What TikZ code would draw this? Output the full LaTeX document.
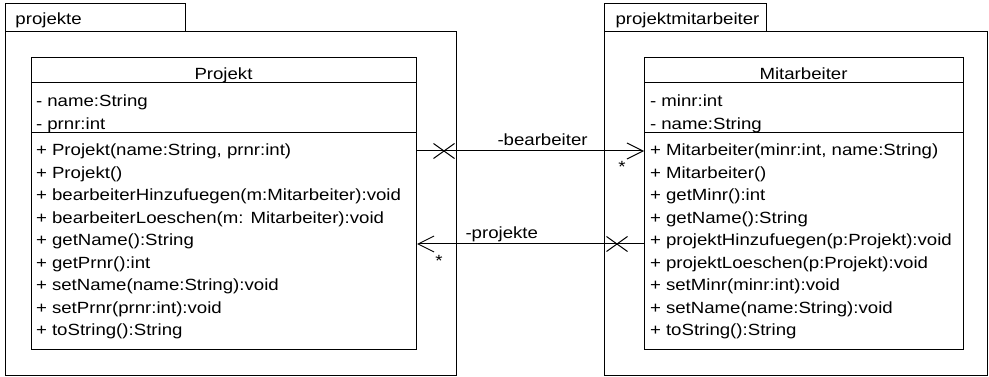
\documentclass[tikz,border=0pt]{standalone}
\usepackage{fontspec}
\setmainfont{Liberation Sans}[FakeStretch=1.15]
\usetikzlibrary{arrows.meta}
\begin{document}
\begin{tikzpicture}[x=1pt,y=-1pt,line width=1pt,
  txt/.style={inner sep=0pt,anchor=base west,font=\fontsize{16.2}{19}\selectfont},
  hdr/.style={inner sep=0pt,anchor=base,font=\fontsize{16.2}{19}\selectfont},
  box/.style={draw,inner sep=0pt,anchor=north west},
  open/.style={-{Straight Barb[length=16pt,width=16pt]}}]
\useasboundingbox (0,0) rectangle (989,377);
% packages
\node[box,minimum width=180pt,minimum height=28pt] (tabL) at (5,3) {};
\node[box,minimum width=451pt,minimum height=344pt] (pkgL) at (5,31) {};
\node[txt] (pkgLlbl) at (15,25) {projekte};
\node[box,minimum width=162pt,minimum height=28pt] (tabR) at (604,3) {};
\node[box,minimum width=383pt,minimum height=344pt] (pkgR) at (604,31) {};
\node[txt] (pkgRlbl) at (615,25) {projektmitarbeiter};
% classes
\node[box,minimum width=385pt,minimum height=292pt] (projekt) at (31,57) {};
\draw ([yshift=-26pt]projekt.north west) -- ([yshift=-26pt]projekt.north east);
\draw ([yshift=-76pt]projekt.north west) -- ([yshift=-76pt]projekt.north east);
\node[hdr] (projektname) at (223.5,80) {Projekt};
\node[txt] (pa1) at (35.5,107) {- name:String};
\node[txt] (pa2) at (35.5,129.5) {- prnr:int};
\foreach \t [count=\i] in {{+ Projekt(name:String, prnr:int)},{+ Projekt()},{+ bearbeiterHinzufuegen(m:Mitarbeiter):void},{+ bearbeiterLoeschen(m: Mitarbeiter):void},{+ getName():String},{+ getPrnr():int},{+ setName(name:String):void},{+ setPrnr(prnr:int):void},{+ toString():String}}
  \node[txt] (pm\i) at (35.5,{155.7+22.5*(\i-1)}) {\t};
\node[box,minimum width=319pt,minimum height=292pt] (mitarb) at (644,57) {};
\draw ([yshift=-26pt]mitarb.north west) -- ([yshift=-26pt]mitarb.north east);
\draw ([yshift=-76pt]mitarb.north west) -- ([yshift=-76pt]mitarb.north east);
\node[hdr] (mitarbname) at (803.5,80) {Mitarbeiter};
\node[txt] (ma1) at (649.5,107) {- minr:int};
\node[txt] (ma2) at (649.5,129.5) {- name:String};
\foreach \t [count=\i] in {{+ Mitarbeiter(minr:int, name:String)},{+ Mitarbeiter()},{+ getMinr():int},{+ getName():String},{+ projektHinzufuegen(p:Projekt):void},{+ projektLoeschen(p:Projekt):void},{+ setMinr(minr:int):void},{+ setName(name:String):void},{+ toString():String}}
  \node[txt] (mm\i) at (649.5,{155.7+22.5*(\i-1)}) {\t};
% associations
\path (projekt.north east) ++(0,94) coordinate (pb);
\path (projekt.north east) ++(0,187) coordinate (pp);
\path (mitarb.north west) ++(0,94) coordinate (mb);
\path (mitarb.north west) ++(0,187) coordinate (mp);
\draw[open] (pb) -- (mb);
\draw (pb) ++(16.5,-7.5) -- ++(21,15) (pb) ++(16.5,7.5) -- ++(21,-15);
\node[txt] (lblb) at (497,146) {-bearbeiter};
\node[hdr] (starb) at (622,173) {*};
\draw[open] (mp) -- (pp);
\draw (mp) ++(-16.5,-7.5) -- ++(-21,15) (mp) ++(-16.5,7.5) -- ++(-21,-15);
\node[txt] (lblp) at (465,239) {-projekte};
\node[hdr] (starp) at (439,266) {*};
\end{tikzpicture}
\end{document}
